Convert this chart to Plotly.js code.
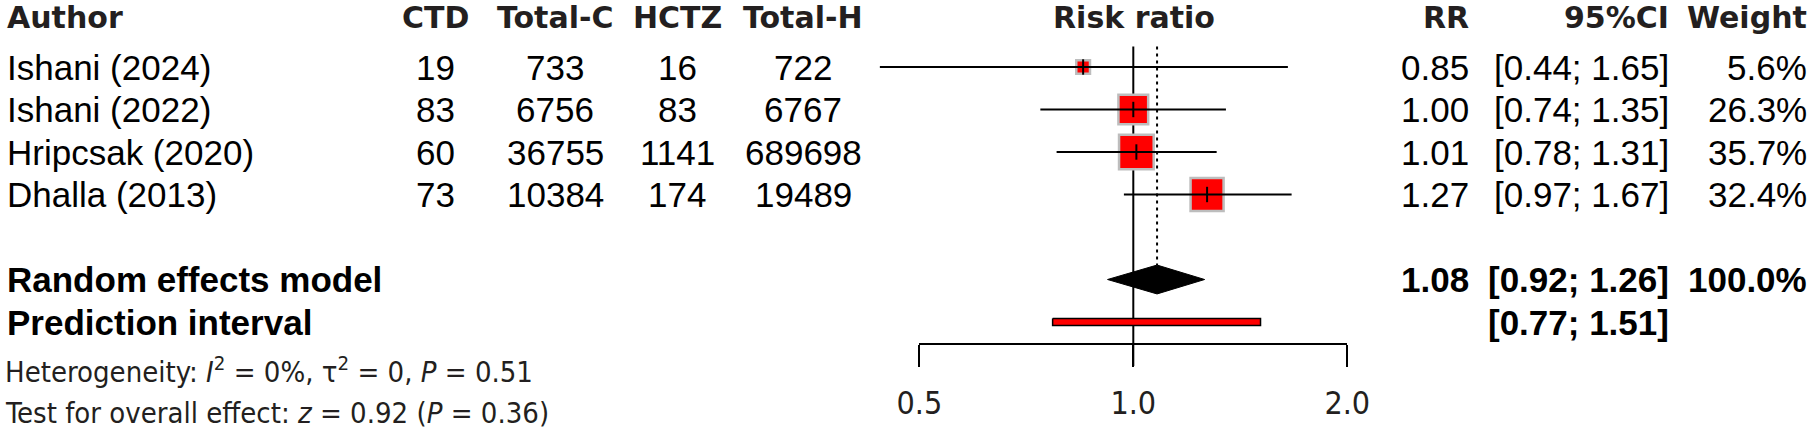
<!DOCTYPE html>
<html><head><meta charset="utf-8">
<script src="https://cdn.plot.ly/plotly-3.0.1.min.js"></script>
<style>html,body{margin:0;padding:0;background:#fff}#chart{width:1818px;height:438px}</style>
</head><body><div id="chart"></div>
<script>
// ---- data ----
const authors = ["Ishani (2024)", "Ishani (2022)", "Hripcsak (2020)", "Dhalla (2013)"];
const ctdEvents = [19, 83, 60, 73];
const ctdTotal = [733, 6756, 36755, 10384];
const hctzEvents = [16, 83, 1141, 174];
const hctzTotal = [722, 6767, 689698, 19489];
const rr = [0.85, 1.00, 1.01, 1.27];
const ciLow = [0.44, 0.74, 0.78, 0.97];
const ciHigh = [1.65, 1.35, 1.31, 1.67];
const weight = [5.6, 26.3, 35.7, 32.4];
const pooledRR = 1.08, pooledLow = 0.92, pooledHigh = 1.26, pooledWeight = 100.0;
const predLow = 0.77, predHigh = 1.51;
const axisTicks = [0.5, 1, 2];
const axisTickText = ["0.5", "1.0", "2.0"];
const headers = ["Author", "CTD", "Total-C", "HCTZ", "Total-H", "Risk ratio", "RR", "95%CI", "Weight"];

// ---- geometry ----
const W = 1818, H = 438;
const rowPx0 = 67, rowStep = 42.5;           // pixel row grid
const studyRows = authors.map((_, i) => i);
const pooledRow = 5, predRow = 6, hetRow = 7.12, testRow = 8.14, headRow = -1.165;
const px = v => v / W;
const f2 = v => v.toFixed(2);

const fontRow = {family: "Liberation Sans, Arial, sans-serif", size: 35, color: "#000"};
const fontBold = {family: "Liberation Sans, Arial, sans-serif", size: 35, color: "#000", weight: "bold"};
const fontHead = {family: "DejaVu Sans, Verdana, sans-serif", size: 30, color: "#231f20", weight: "bold"};
const fontNote = {family: "DejaVu Sans Condensed, DejaVu Sans, sans-serif", size: 29, color: "#231f20"};
const fontTick = {family: "DejaVu Sans Condensed, DejaVu Sans, sans-serif", size: 32, color: "#231f20"};

// ---- traces ----
const boxes = {
  x: rr, y: studyRows, type: "scatter", mode: "markers", xaxis: "x", yaxis: "y",
  marker: {symbol: "square", color: "#ff0000", opacity: 1, size: weight.map(w => 5.8 * Math.sqrt(w)),
           line: {color: "#bdbdbd", width: 2.5}},
  hoverinfo: "skip", showlegend: false
};
const ciX = [], ciY = [];
studyRows.forEach(i => { ciX.push(ciLow[i], ciHigh[i], null); ciY.push(i, i, null); });
const ciLines = {x: ciX, y: ciY, type: "scatter", mode: "lines", line: {color: "#000", width: 2},
  hoverinfo: "skip", showlegend: false};
const ticksMk = {x: rr, y: studyRows, type: "scatter", mode: "markers",
  marker: {symbol: "line-ns", size: 11, opacity: 1, line: {color: "#000", width: 2}}, hoverinfo: "skip", showlegend: false};
const dh = 0.34;
const diamond = {x: [pooledLow, pooledRR, pooledHigh, pooledRR, pooledLow],
  y: [pooledRow, pooledRow - dh, pooledRow, pooledRow + dh, pooledRow],
  type: "scatter", mode: "lines", fill: "toself", fillcolor: "#000", line: {color: "#000", width: 1},
  hoverinfo: "skip", showlegend: false};
const ph = 0.085;
const predBar = {x: [predLow, predHigh, predHigh, predLow, predLow],
  y: [predRow - ph, predRow - ph, predRow + ph, predRow + ph, predRow - ph],
  type: "scatter", mode: "lines", fill: "toself", fillcolor: "#ff0000", line: {color: "#000", width: 1.5},
  hoverinfo: "skip", showlegend: false};
const axisDummy = {x: axisTicks, y: axisTicks.map(() => null), type: "scatter", mode: "markers",
  xaxis: "x2", yaxis: "y", hoverinfo: "skip", showlegend: false};

// ---- annotations ----
const ann = [];
function t(text, xpx, row, anchor, font) {
  ann.push({text: text, x: px(xpx), xref: "paper", y: row, yref: "y", xanchor: anchor, yanchor: "middle",
            showarrow: false, font: font, borderpad: 0});
}
const colCTD = 435, colTC = 555, colHC = 677, colTH = 803, colRR = 1470, colCI = 1670, colW = 1808, colPlot = 1134;
t(headers[0], 6, headRow, "left", fontHead);
t(headers[1], colCTD, headRow, "center", fontHead);
t(headers[2], colTC, headRow, "center", fontHead);
t(headers[3], colHC, headRow, "center", fontHead);
t(headers[4], colTH, headRow, "center", fontHead);
t(headers[5], colPlot, headRow, "center", fontHead);
t(headers[6], colRR, headRow, "right", fontHead);
t(headers[7], colCI, headRow, "right", fontHead);
t(headers[8], colW, headRow, "right", fontHead);
studyRows.forEach(i => {
  t(authors[i], 6, i, "left", fontRow);
  t(String(ctdEvents[i]), colCTD, i, "center", fontRow);
  t(String(ctdTotal[i]), colTC, i, "center", fontRow);
  t(String(hctzEvents[i]), colHC, i, "center", fontRow);
  t(String(hctzTotal[i]), colTH, i, "center", fontRow);
  t(f2(rr[i]), colRR, i, "right", fontRow);
  t("[" + f2(ciLow[i]) + "; " + f2(ciHigh[i]) + "]", colCI, i, "right", fontRow);
  t(weight[i].toFixed(1) + "%", colW, i, "right", fontRow);
});
t("Random effects model", 6, pooledRow, "left", fontBold);
t(f2(pooledRR), colRR, pooledRow, "right", fontBold);
t("[" + f2(pooledLow) + "; " + f2(pooledHigh) + "]", colCI, pooledRow, "right", fontBold);
t(pooledWeight.toFixed(1) + "%", colW, pooledRow, "right", fontBold);
t("Prediction interval", 6, predRow, "left", fontBold);
t("[" + f2(predLow) + "; " + f2(predHigh) + "]", colCI, predRow, "right", fontBold);
t("Heterogeneity: <i>I</i><sup>2</sup> = 0%, τ<sup>2</sup> = 0, <i>P</i> = 0.51", 4, hetRow, "left", fontNote);
t("Test for overall effect: <i>z</i> = 0.92 (<i>P</i> = 0.36)", 4, testRow, "left", fontNote);

// ---- axes ----
const lnPx = 308.7, onePx = 1133.3;
const xr0 = Math.log10(Math.exp((0 - onePx) / lnPx));
const xr1 = Math.log10(Math.exp((W - onePx) / lnPx));
const yr0 = -rowPx0 / rowStep, yr1 = (H - rowPx0) / rowStep;
const axisPx = 344;

const layout = {
  width: W, height: H, margin: {l: 0, r: 0, t: 0, b: 0}, paper_bgcolor: "#fff", plot_bgcolor: "rgba(0,0,0,0)",
  showlegend: false,
  xaxis: {type: "log", range: [xr0, xr1], domain: [0, 1], visible: false, fixedrange: true},
  yaxis: {range: [yr1, yr0], visible: false, fixedrange: true},
  xaxis2: {type: "log", range: [Math.log10(axisTicks[0]), Math.log10(axisTicks[2])],
    domain: [px(onePx + lnPx * Math.log(axisTicks[0])), px(onePx + lnPx * Math.log(axisTicks[2]))],
    anchor: "free", position: (H - axisPx) / H, showline: true, linecolor: "#000", linewidth: 2,
    ticks: "outside", ticklen: 22, tickwidth: 2, tickcolor: "#000", tickvals: axisTicks, ticktext: axisTickText,
    ticklabelstandoff: 9,
    tickfont: fontTick, showgrid: false, zeroline: false, fixedrange: true},
  shapes: [
    {type: "line", xref: "x", yref: "y", x0: 1, x1: 1, y0: -0.48, y1: (366 - rowPx0) / rowStep,
     line: {color: "#000", width: 2}, layer: "below"},
    {type: "line", xref: "x", yref: "y", x0: pooledRR, x1: pooledRR, y0: -0.48, y1: pooledRow - dh,
     line: {color: "#000", width: 2, dash: "3px,4px"}, layer: "below"}
  ],
  annotations: ann
};

Plotly.newPlot("chart", [boxes, ciLines, ticksMk, diamond, predBar, axisDummy], layout,
  {staticPlot: true, displayModeBar: false});
</script></body></html>
